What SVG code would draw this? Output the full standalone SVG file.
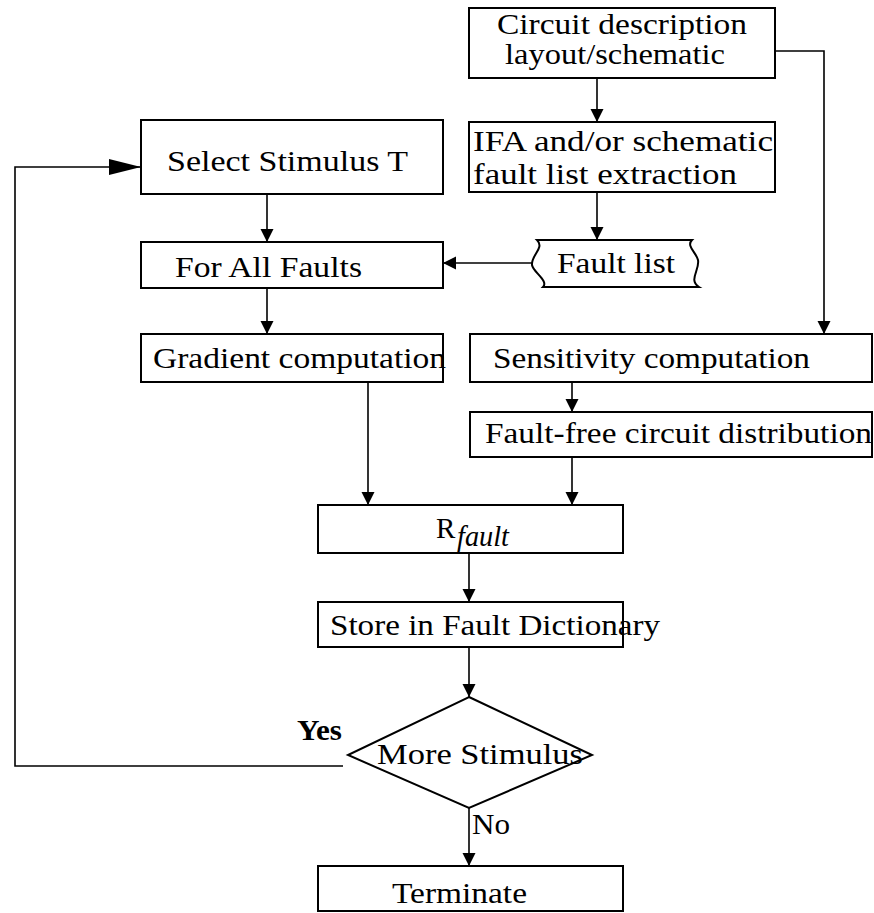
<svg xmlns="http://www.w3.org/2000/svg" width="874" height="913" viewBox="0 0 874 913">
<style>
.box{fill:#fff;stroke:#000;stroke-width:2}
.t{font-family:"Liberation Serif","Times New Roman",serif;font-size:29px;fill:#000}
.ln{fill:none;stroke:#000;stroke-width:1.6}
</style>
<defs>
<marker id="ah" markerUnits="userSpaceOnUse" markerWidth="13" markerHeight="14" refX="13" refY="7" orient="auto"><path d="M0,0.5 L13,7 L0,13.5 z" fill="#000"/></marker>
<marker id="ahL" markerUnits="userSpaceOnUse" markerWidth="32" markerHeight="18" refX="32" refY="9" orient="auto"><path d="M0,1 L32,9 L0,17 z" fill="#000"/></marker>
</defs>
<rect width="874" height="913" fill="#fff"/>
<g id="connectors">
<path class="ln" d="M597,78 V122" marker-end="url(#ah)"/>
<path class="ln" d="M597,192 V240" marker-end="url(#ah)"/>
<path class="ln" d="M532,263 H443" marker-end="url(#ah)"/>
<path class="ln" d="M775,51 H824 V334" marker-end="url(#ah)"/>
<path class="ln" d="M267,194 V242" marker-end="url(#ah)"/>
<path class="ln" d="M267,288 V334" marker-end="url(#ah)"/>
<path class="ln" d="M368,382 V505" marker-end="url(#ah)"/>
<path class="ln" d="M572,382 V412" marker-end="url(#ah)"/>
<path class="ln" d="M572,457 V505" marker-end="url(#ah)"/>
<path class="ln" d="M469,553 V602" marker-end="url(#ah)"/>
<path class="ln" d="M469,647 V697" marker-end="url(#ah)"/>
<path class="ln" d="M343,766 H15 V167 H141" marker-end="url(#ahL)"/>
<path class="ln" d="M469,808 V866" marker-end="url(#ah)"/>
</g>
<g id="circuit-description">
<rect class="box" x="469" y="8" width="306" height="70"/>
<text class="t" x="497" y="34" textLength="250" lengthAdjust="spacingAndGlyphs">Circuit description</text>
<text class="t" x="505" y="64" textLength="220" lengthAdjust="spacingAndGlyphs">layout/schematic</text>
</g>
<g id="ifa-extraction">
<rect class="box" x="469" y="122" width="306" height="70"/>
<text class="t" x="473" y="151" textLength="300" lengthAdjust="spacingAndGlyphs">IFA and/or schematic</text>
<text class="t" x="473" y="184" textLength="264" lengthAdjust="spacingAndGlyphs">fault list extraction</text>
</g>
<g id="fault-list">
<path d="M537,240 H692 C686,246 696,252 698,260 C700,270 688,280 699,287 H543 C549,281 533,272 532,265 C531,255 545,248 537,240 Z" fill="#fff" stroke="#000" stroke-width="2"/>
<text class="t" x="557" y="273" textLength="118" lengthAdjust="spacingAndGlyphs">Fault list</text>
</g>
<g id="select-stimulus">
<rect class="box" x="141" y="120" width="302" height="74"/>
<text class="t" x="167" y="171" textLength="241" lengthAdjust="spacingAndGlyphs">Select Stimulus T</text>
</g>
<g id="for-all-faults">
<rect class="box" x="141" y="242" width="302" height="46"/>
<text class="t" x="175" y="277" textLength="187" lengthAdjust="spacingAndGlyphs">For All Faults</text>
</g>
<g id="gradient">
<rect class="box" x="141" y="334" width="302" height="48"/>
<text class="t" x="153" y="368" textLength="293" lengthAdjust="spacingAndGlyphs">Gradient computation</text>
</g>
<g id="sensitivity">
<rect class="box" x="470" y="334" width="402" height="48"/>
<text class="t" x="493" y="368" textLength="317" lengthAdjust="spacingAndGlyphs">Sensitivity computation</text>
</g>
<g id="fault-free">
<rect class="box" x="470" y="412" width="402" height="45"/>
<text class="t" x="485" y="443" textLength="387" lengthAdjust="spacingAndGlyphs">Fault-free circuit distribution</text>
</g>
<g id="rfault">
<rect class="box" x="318" y="505" width="305" height="48"/>
<text class="t" x="436" y="538">R</text>
<text class="t" x="457" y="546" font-size="21" font-style="italic" textLength="52" lengthAdjust="spacingAndGlyphs">fault</text>
</g>
<g id="store">
<rect class="box" x="318" y="602" width="305" height="45"/>
<text class="t" x="330" y="635" textLength="330" lengthAdjust="spacingAndGlyphs">Store in Fault Dictionary</text>
</g>
<g id="more-stimulus">
<polygon points="469,697 592,755 469,808 348,755" fill="#fff" stroke="#000" stroke-width="2"/>
<text class="t" x="377" y="764" textLength="206" lengthAdjust="spacingAndGlyphs">More Stimulus</text>
<text class="t" x="297" y="740" font-weight="bold" textLength="45" lengthAdjust="spacingAndGlyphs">Yes</text>
<text class="t" x="472" y="834" textLength="38" lengthAdjust="spacingAndGlyphs">No</text>
</g>
<g id="terminate">
<rect class="box" x="318" y="866" width="305" height="45"/>
<text class="t" x="392" y="903" textLength="135" lengthAdjust="spacingAndGlyphs">Terminate</text>
</g>
</svg>
